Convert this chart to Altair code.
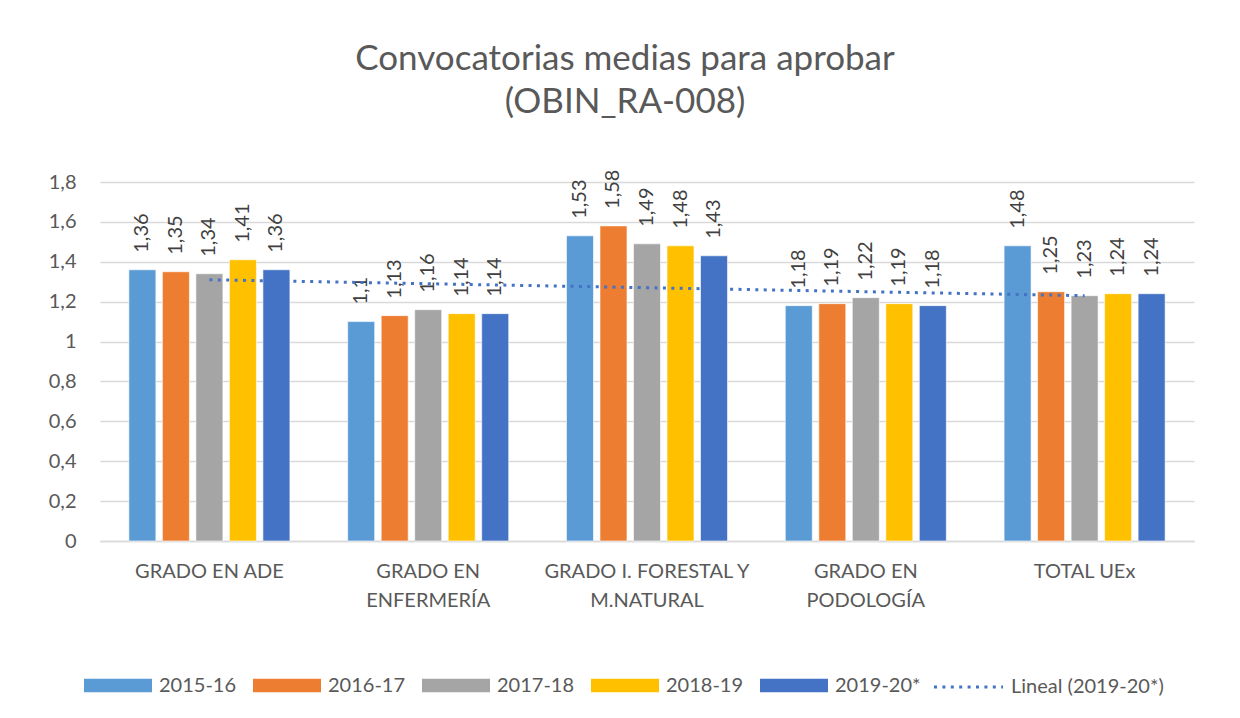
import altair as alt
import pandas as pd

# ---------------- data ----------------
categories = ["GRADO EN ADE", "GRADO EN ENFERMERÍA", "GRADO I. FORESTAL Y M.NATURAL",
              "GRADO EN PODOLOGÍA", "TOTAL UEx"]
category_lines = [["GRADO EN ADE"], ["GRADO EN", "ENFERMERÍA"], ["GRADO I. FORESTAL Y", "M.NATURAL"],
                  ["GRADO EN", "PODOLOGÍA"], ["TOTAL UEx"]]
series = ["2015-16", "2016-17", "2017-18", "2018-19", "2019-20*"]
v_2015_16 = [1.36, 1.10, 1.53, 1.18, 1.48]
v_2016_17 = [1.35, 1.13, 1.58, 1.19, 1.25]
v_2017_18 = [1.34, 1.16, 1.49, 1.22, 1.23]
v_2018_19 = [1.41, 1.14, 1.48, 1.19, 1.24]
v_2019_20 = [1.36, 1.14, 1.43, 1.18, 1.24]
colors = ["#5B9BD5", "#ED7D31", "#A5A5A5", "#FFC000", "#4472C4"]
trend_name = "Lineal (2019-20*)"
trend_series = "2019-20*"
y_ticks = [0, 0.2, 0.4, 0.6, 0.8, 1.0, 1.2, 1.4, 1.6, 1.8]
title_lines = ["Convocatorias medias para aprobar", "(OBIN_RA-008)"]

values_by_series = [v_2015_16, v_2016_17, v_2017_18, v_2018_19, v_2019_20]
rows = []
for s, vals in zip(series, values_by_series):
    for i, (c, v) in enumerate(zip(categories, vals)):
        rows.append({"category": c, "idx": i + 1, "serie": s, "value": v,
                     "label": str(v).replace(".", ",")})
df = pd.DataFrame(rows)

cats_js = "[" + ", ".join("'" + c + "'" for c in categories) + "]"
lines_js = "[" + ", ".join("[" + ", ".join("'" + p + "'" for p in ls) + "]" for ls in category_lines) + "]"
x_label_expr = f"{lines_js}[indexof({cats_js}, datum.label)]"

FONT = "Lato"
TXT = "#595959"
W, H = 1094, 359

x_scale = alt.Scale(domain=categories, paddingInner=0, paddingOuter=0)
x_axis = alt.Axis(title=None, labelAngle=0, labelExpr=x_label_expr, ticks=False,
                  domainColor="#D9D9D9", domainWidth=1.3, labelPadding=20, labelLimit=400,
                  labelFontSize=20, labelLineHeight=29, labelColor=TXT, labelFont=FONT)
x_bar = alt.X("category:N", sort=categories, scale=x_scale, axis=x_axis)
x_off = alt.XOffset("serie:N", sort=series,
                    scale=alt.Scale(paddingInner=0.194, paddingOuter=0.862))
y_scale = alt.Scale(domain=[0, 1.8], nice=False, zero=True)
y_axis = alt.Axis(title=None, values=y_ticks, tickCount=10,
                  labelExpr="replace(format(datum.value, '.1~f'), '.', ',')",
                  grid=True, gridColor="#D9D9D9", gridWidth=1.3, domain=False, ticks=False,
                  labelPadding=24, labelFontSize=20, labelColor=TXT, labelFont=FONT)
y_enc = alt.Y("value:Q", scale=y_scale, axis=y_axis)

base = alt.Chart(df)

bars = base.mark_bar(stroke="white", strokeWidth=0.6).encode(
    x=x_bar, xOffset=x_off, y=y_enc,
    color=alt.Color(
        "serie:N", sort=series,
        scale=alt.Scale(domain=series, range=colors),
        legend=alt.Legend(orient="none", legendX=-16, legendY=469.5, direction="horizontal",
                          title=None, symbolType="M-1,-0.2H1V0.2H-1Z", symbolSize=4624,
                          symbolStrokeWidth=0, labelOffset=7, columnPadding=16,
                          labelFontSize=20, labelColor=TXT, labelFont=FONT, padding=0),
    ),
)

labels = base.mark_text(angle=270, align="left", baseline="middle", dx=17,
                        fontSize=20, color="#404040", font=FONT).encode(
    x=x_bar, xOffset=x_off, y=y_enc, text="label:N",
)

trend = (
    base.transform_filter(alt.datum.serie == trend_series)
    .transform_regression("idx", "value", method="linear", extent=[1, 5])
    .transform_calculate(tl=f"'{trend_name}'",
                         category=f"{cats_js}[round(datum.idx) - 1]")
    .mark_line(color="#4472C4", strokeWidth=3)
    .encode(
        x=x_bar,
        y=y_enc,
        strokeDash=alt.StrokeDash(
            "tl:N",
            scale=alt.Scale(domain=[trend_name], range=[[3, 5.4]]),
            legend=alt.Legend(orient="none", legendX=832.5, legendY=469, title=None,
                              symbolType="stroke", symbolSize=4761, symbolStrokeColor="#4472C4",
                              symbolStrokeWidth=3, labelOffset=6.5,
                              labelFontSize=20, labelColor=TXT, labelFont=FONT, padding=0),
        ),
    )
)

chart = (
    alt.layer(bars, labels, trend)
    .properties(
        width=W, height=H,
        title=alt.Title(title_lines, fontSize=35, font=FONT, fontWeight="normal", color=TXT,
                        lineHeight=43, anchor="middle", frame="group", dx=-22, offset=50),
        autosize=alt.AutoSizeParams(type="none"),
        padding={"left": 92, "top": 174, "right": 38, "bottom": 169},
        background="white",
    )
    .configure_view(stroke=None)
)

chart.save("out.html", embed_options={"renderer": "svg", "actions": False})
